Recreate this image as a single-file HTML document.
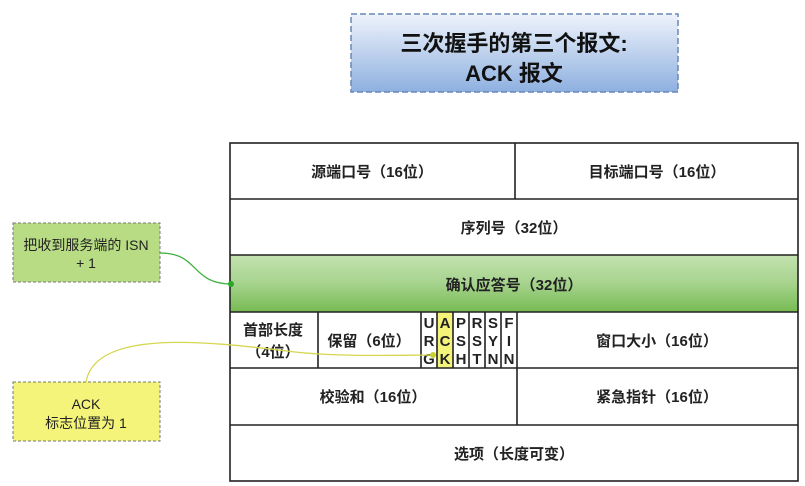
<!DOCTYPE html>
<html><head><meta charset="utf-8"><style>
html,body{margin:0;padding:0;background:#fff;width:805px;height:486px;overflow:hidden}
text{font-family:"Liberation Sans","Noto Sans CJK SC",sans-serif;}
</style></head><body>
<svg width="805" height="486" viewBox="0 0 805 486" xmlns="http://www.w3.org/2000/svg">
<defs>
<linearGradient id="tg" x1="0" y1="0" x2="0" y2="1"><stop offset="0" stop-color="#eef3fb"/><stop offset="1" stop-color="#8eb0e0"/></linearGradient>
<linearGradient id="gg" x1="0" y1="0" x2="0" y2="1"><stop offset="0" stop-color="#c4e2b0"/><stop offset="0.5" stop-color="#a6d38d"/><stop offset="1" stop-color="#76bb52"/></linearGradient>
</defs>
<rect x="351" y="14" width="327" height="78" fill="url(#tg)" stroke="#6a86b8" stroke-width="1.5" stroke-dasharray="6,3"/>
<text x="514" y="51" font-size="22" font-weight="bold" text-anchor="middle" fill="#111">三次握手的第三个报文:</text>
<text x="514" y="81" font-size="22" font-weight="bold" text-anchor="middle" fill="#111">ACK 报文</text>

<g stroke="#222" stroke-width="1.6" fill="none">
<rect x="230" y="255" width="568" height="57" fill="url(#gg)" stroke="none"/>
<rect x="437" y="312" width="16" height="56" fill="#f4f47a" stroke="none"/>
<rect x="230" y="143" width="568" height="338"/>
<line x1="230" y1="199" x2="798" y2="199"/>
<line x1="230" y1="255" x2="798" y2="255"/>
<line x1="230" y1="312" x2="798" y2="312"/>
<line x1="230" y1="368" x2="798" y2="368"/>
<line x1="230" y1="425" x2="798" y2="425"/>
<line x1="515" y1="143" x2="515" y2="199"/>
<line x1="517" y1="312" x2="517" y2="425"/>
<line x1="318" y1="312" x2="318" y2="368"/>
<line x1="421" y1="312" x2="421" y2="368"/>
<line x1="437" y1="312" x2="437" y2="368"/>
<line x1="453" y1="312" x2="453" y2="368"/>
<line x1="469" y1="312" x2="469" y2="368"/>
<line x1="485" y1="312" x2="485" y2="368"/>
<line x1="501" y1="312" x2="501" y2="368"/>
</g>
<g font-size="15" font-weight="bold" fill="#222" text-anchor="middle">
<text x="372" y="177">源端口号（16位）</text>
<text x="657" y="177">目标端口号（16位）</text>
<text x="514" y="233">序列号（32位）</text>
<text x="514" y="290">确认应答号（32位）</text>
<text x="273" y="335">首部长度</text>
<text x="273" y="357">（4位）</text>
<text x="369" y="346">保留（6位）</text>
<text x="657" y="346">窗口大小（16位）</text>
<text x="373" y="402">校验和（16位）</text>
<text x="657" y="402">紧急指针（16位）</text>
<text x="514" y="459">选项（长度可变）</text>
</g>
<g font-size="15" fill="#222" text-anchor="middle" font-family="Liberation Mono" font-weight="bold">
<text x="429" y="328">U</text><text x="429" y="346">R</text><text x="429" y="364">G</text>
<text x="445" y="328">A</text><text x="445" y="346">C</text><text x="445" y="364">K</text>
<text x="461" y="328">P</text><text x="461" y="346">S</text><text x="461" y="364">H</text>
<text x="477" y="328">R</text><text x="477" y="346">S</text><text x="477" y="364">T</text>
<text x="493" y="328">S</text><text x="493" y="346">Y</text><text x="493" y="364">N</text>
<text x="509" y="328">F</text><text x="509" y="346">I</text><text x="509" y="364">N</text>
</g>

<rect x="13" y="223" width="147" height="59" fill="#b8dc84" stroke="#777" stroke-dasharray="3,2"/>
<text x="86" y="250" font-size="14" text-anchor="middle" fill="#222">把收到服务端的 ISN</text>
<text x="86" y="268" font-size="14" text-anchor="middle" fill="#222">+ 1</text>
<rect x="13" y="382" width="147" height="59" fill="#f4f47a" stroke="#777" stroke-dasharray="3,2"/>
<text x="86" y="409" font-size="14" text-anchor="middle" fill="#222">ACK</text>
<text x="86" y="428" font-size="14" text-anchor="middle" fill="#222">标志位置为 1</text>

<path d="M160,253 C200,253 190,284 232,284" fill="none" stroke="#3db03d" stroke-width="1.3"/>
<circle cx="231" cy="284" r="3" fill="#2aa82a"/>
<path d="M86,382 C95,330 200,340 295,352 C340,357 400,355 433,355" fill="none" stroke="#d6d650" stroke-width="1.3"/>
<circle cx="433" cy="355" r="3" fill="#c8d030"/>
</svg>
</body></html>
